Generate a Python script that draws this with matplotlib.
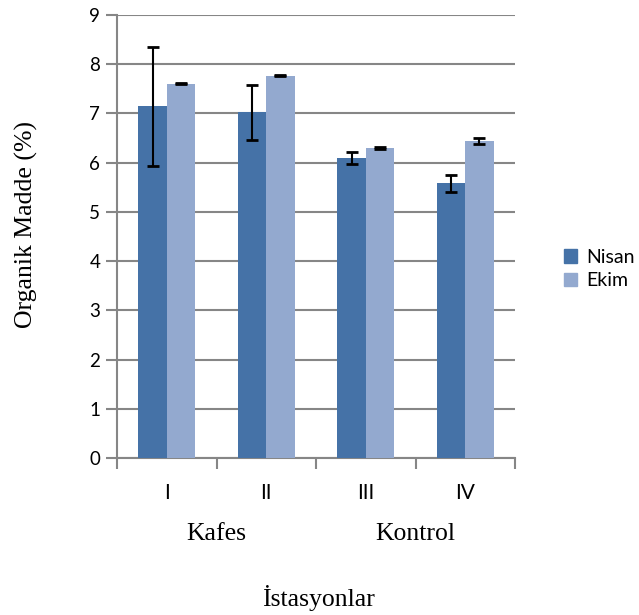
import matplotlib
matplotlib.use("Agg")
import matplotlib.pyplot as plt
import numpy as np
from matplotlib.patches import Patch

stations = ["I", "II", "III", "IV"]
groups = ["Kafes", "Kontrol"]
nisan = [7.15, 7.02, 6.10, 5.58]
nisan_err = [1.21, 0.55, 0.12, 0.17]
ekim = [7.60, 7.77, 6.29, 6.44]
ekim_err = [0.01, 0.01, 0.02, 0.065]
yticks = list(range(0, 10))

c_nisan = "#4572A7"
c_ekim = "#93A9CF"
grid_c = "#868686"

fig = plt.figure(figsize=(6.39, 6.15), dpi=100)
ax = fig.add_axes([117/639, 1-458/615, (515-117)/639, (458-15)/615])

x = np.arange(len(stations))
w = 0.285
ax.bar(x - w/2, nisan, w, color=c_nisan, zorder=3, label="Nisan")
ax.bar(x + w/2, ekim, w, color=c_ekim, zorder=3, label="Ekim")
ax.errorbar(x - w/2, nisan, yerr=nisan_err, fmt="none", ecolor="black",
            elinewidth=1.5, capsize=4.5, capthick=2, zorder=4)
ax.errorbar(x + w/2, ekim, yerr=ekim_err, fmt="none", ecolor="black",
            elinewidth=1.5, capsize=4.5, capthick=2, zorder=4)

ax.set_xlim(-0.5, len(stations) - 0.5)
ax.set_ylim(0, 9)
ax.set_yticks(yticks)
ax.set_yticklabels([str(t) for t in yticks], fontfamily="Lato", fontsize=13.5)
ax.yaxis.grid(True, color=grid_c, linewidth=1.5, zorder=0)
ax.tick_params(axis="y", length=8, width=1.5, color=grid_c, pad=4)

ax.set_xticks(np.arange(len(stations) + 1) - 0.5)
ax.set_xticklabels([])
ax.tick_params(axis="x", length=8, width=1.5, color=grid_c)
for i, s in enumerate(stations):
    ax.text(i, -0.72, s, ha="center", va="center", fontsize=15, fontfamily="Lato")
for j, g in enumerate(groups):
    ax.text(2*j + 0.5, -1.55, g, ha="center", va="center", fontsize=18.5,
            fontfamily="Liberation Serif")

for sp in ["top", "right"]:
    ax.spines[sp].set_visible(False)
for sp in ["left", "bottom"]:
    ax.spines[sp].set_color(grid_c)
    ax.spines[sp].set_linewidth(1.5)

fig.text(318/639, 1-598/615, "İstasyonlar", ha="center", va="center",
         fontsize=18.5, fontfamily="Liberation Serif")
fig.text(26/639, 1-225/615, "Organik Madde (%)", ha="center", va="center",
         rotation=90, fontsize=18.5, fontfamily="Liberation Serif")

handles = [Patch(color=c_nisan, label="Nisan"), Patch(color=c_ekim, label="Ekim")]
fig.legend(handles=handles, loc="center left", bbox_to_anchor=(546/639, 1-269/615),
           frameon=False, prop={"family": "Lato", "size": 14},
           handlelength=0.7, handleheight=0.7, handletextpad=0.45, labelspacing=0.35)

fig.savefig("out.png", dpi=100)
